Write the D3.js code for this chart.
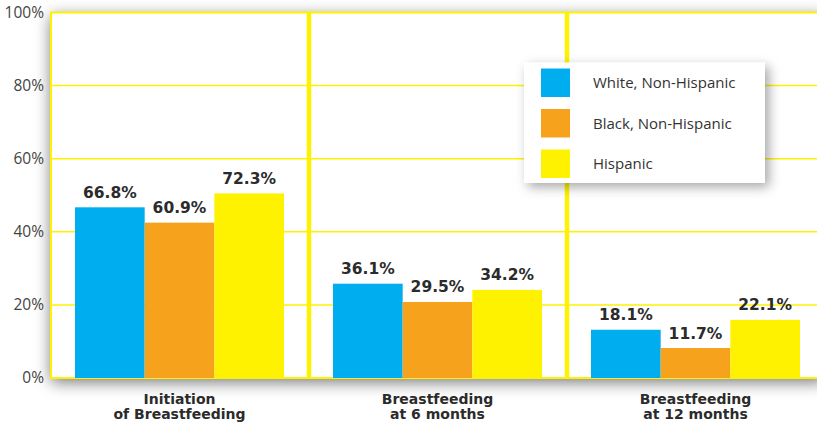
<!DOCTYPE html>
<html>
<head>
<meta charset="utf-8">
<script src="https://cdn.jsdelivr.net/npm/d3@7"></script>
<style>
  body { margin: 0; background: #fff; }
  svg { display: block; }
</style>
</head>
<body>
<div id="chart"></div>
<script>
// chart data
var categories = ["Initiation|of Breastfeeding", "Breastfeeding|at 6 months", "Breastfeeding|at 12 months"];
var series = ["White, Non-Hispanic", "Black, Non-Hispanic", "Hispanic"];
// printed labels
var white = [66.8, 36.1, 18.1];
var black = [60.9, 29.5, 11.7];
var hispanic = [72.3, 34.2, 22.1];
// bar heights as drawn against the axis
var whiteBar = [46.7, 25.8, 13.2];
var blackBar = [42.5, 20.8, 8.2];
var hispanicBar = [50.5, 24.1, 15.9];
var yTicks = [0, 20, 40, 60, 80, 100];

var colors = ["#00aeef", "#f7a21d", "#fff200"];
var yellow = "#fff200";

var svgWidth = 817;
var svgHeight = 425;

var margin = { top: 12.5, left: 51, bottom: 47 };
var plotRight = 825;

var svg = d3.select("#chart")
  .append("svg")
  .attr("width", svgWidth)
  .attr("height", svgHeight);

var defs = svg.append("defs");
defs.append("filter").attr("id", "plotShadow")
  .attr("x", "-10%").attr("y", "-20%").attr("width", "120%").attr("height", "140%")
  .append("feDropShadow")
  .attr("dx", 0).attr("dy", 4).attr("stdDeviation", 8)
  .attr("flood-color", "#000").attr("flood-opacity", 0.55);
defs.append("filter").attr("id", "legendShadow")
  .attr("x", "-20%").attr("y", "-30%").attr("width", "140%").attr("height", "160%")
  .append("feDropShadow")
  .attr("dx", 4).attr("dy", 4).attr("stdDeviation", 6)
  .attr("flood-color", "#000").attr("flood-opacity", 0.35);

// build rows from the arrays
var rows = categories.map(function(c, i) {
  return {
    cat: c,
    vals: [
      { s: series[0], label: white[i], h: whiteBar[i] },
      { s: series[1], label: black[i], h: blackBar[i] },
      { s: series[2], label: hispanic[i], h: hispanicBar[i] }
    ]
  };
});

var yScale = d3.scaleLinear()
  .domain([0, 100])
  .range([svgHeight - margin.bottom, margin.top]);

var x0 = d3.scaleBand()
  .domain(categories)
  .range([margin.left, plotRight])
  .padding(0);

var x1 = d3.scaleBand()
  .domain(series)
  .range([24, 233])
  .padding(0);

var color = d3.scaleOrdinal().domain(series).range(colors);

// plot background with shadow
svg.append("rect")
  .attr("x", margin.left)
  .attr("y", yScale(100))
  .attr("width", plotRight - margin.left)
  .attr("height", yScale(0) - yScale(100))
  .attr("fill", "#fff")
  .attr("filter", "url(#plotShadow)");

// gridlines
svg.append("g")
  .selectAll("line")
  .data(yTicks.slice(1, -1))
  .enter()
  .append("line")
  .attr("x1", margin.left)
  .attr("x2", plotRight)
  .attr("y1", function(d) { return yScale(d); })
  .attr("y2", function(d) { return yScale(d); })
  .attr("stroke", yellow)
  .attr("stroke-width", 1.5);

// frame
svg.append("rect")
  .attr("x", margin.left)
  .attr("y", yScale(100))
  .attr("width", plotRight - margin.left)
  .attr("height", yScale(0) - yScale(100))
  .attr("fill", "none")
  .attr("stroke", yellow)
  .attr("stroke-width", 2);

// group separators
svg.append("g")
  .selectAll("line")
  .data(categories.slice(1))
  .enter()
  .append("line")
  .attr("x1", function(d) { return x0(d); })
  .attr("x2", function(d) { return x0(d); })
  .attr("y1", yScale(100))
  .attr("y2", yScale(0))
  .attr("stroke", yellow)
  .attr("stroke-width", 4.5);

// bars
var groups = svg.selectAll(".group")
  .data(rows)
  .enter()
  .append("g")
  .attr("class", "group")
  .attr("transform", function(d) { return "translate(" + x0(d.cat) + ",0)"; });

groups.selectAll("rect")
  .data(function(d) { return d.vals; })
  .enter()
  .append("rect")
  .attr("x", function(d) { return x1(d.s); })
  .attr("y", function(d) { return yScale(d.h); })
  .attr("width", x1.bandwidth())
  .attr("height", function(d) { return yScale(0) - yScale(d.h); })
  .attr("fill", function(d) { return color(d.s); });

groups.selectAll("text")
  .data(function(d) { return d.vals; })
  .enter()
  .append("text")
  .attr("x", function(d) { return x1(d.s) + x1.bandwidth() / 2; })
  .attr("y", function(d) { return yScale(d.h) - 9.5; })
  .attr("text-anchor", "middle")
  .attr("font-family", "'DejaVu Sans', sans-serif")
  .attr("font-weight", "bold")
  .attr("font-size", 15.5)
  .attr("fill", "#2b2b2b")
  .text(function(d) { return d.label.toFixed(1) + "%"; });

// y axis labels
var yAxisG = svg.append("g")
  .attr("transform", "translate(" + (margin.left - 7) + ",0)")
  .call(d3.axisLeft(yScale).tickValues(yTicks).tickSize(0).tickPadding(0)
    .tickFormat(function(d) { return d + "%"; }));
yAxisG.select(".domain").remove();
yAxisG.selectAll("text")
  .attr("font-family", "'Open Sans', sans-serif")
  .attr("font-size", 15.5)
  .attr("fill", "#444");

// category labels
svg.append("g")
  .selectAll("text")
  .data(categories)
  .enter()
  .append("text")
  .attr("x", function(d) { return x0(d) + 128.5; })
  .attr("y", 404)
  .attr("text-anchor", "middle")
  .attr("font-family", "'DejaVu Sans', sans-serif")
  .attr("font-weight", "bold")
  .attr("font-size", 14)
  .attr("fill", "#2b2b2b")
  .each(function(d) {
    var parts = d.split("|");
    var t = d3.select(this);
    parts.forEach(function(p, i) {
      t.append("tspan")
        .attr("x", t.attr("x"))
        .attr("dy", i === 0 ? 0 : 14.5)
        .text(p);
    });
  });

// legend
var legend = svg.append("g")
  .attr("transform", "translate(524,62.5)");

legend.append("rect")
  .attr("width", 241)
  .attr("height", 120.5)
  .attr("fill", "#fff")
  .attr("filter", "url(#legendShadow)");

var items = legend.selectAll(".item")
  .data(series)
  .enter()
  .append("g")
  .attr("class", "item")
  .attr("transform", function(d, i) { return "translate(17," + (6 + i * 40.5) + ")"; });

items.append("rect")
  .attr("width", 29)
  .attr("height", 28.5)
  .attr("fill", function(d) { return color(d); });

items.append("text")
  .attr("x", 52)
  .attr("y", 14.5)
  .attr("dy", "0.35em")
  .attr("font-family", "'Open Sans', sans-serif")
  .attr("font-size", 15)
  .attr("fill", "#333")
  .text(function(d) { return d; });
</script>
</body>
</html>
